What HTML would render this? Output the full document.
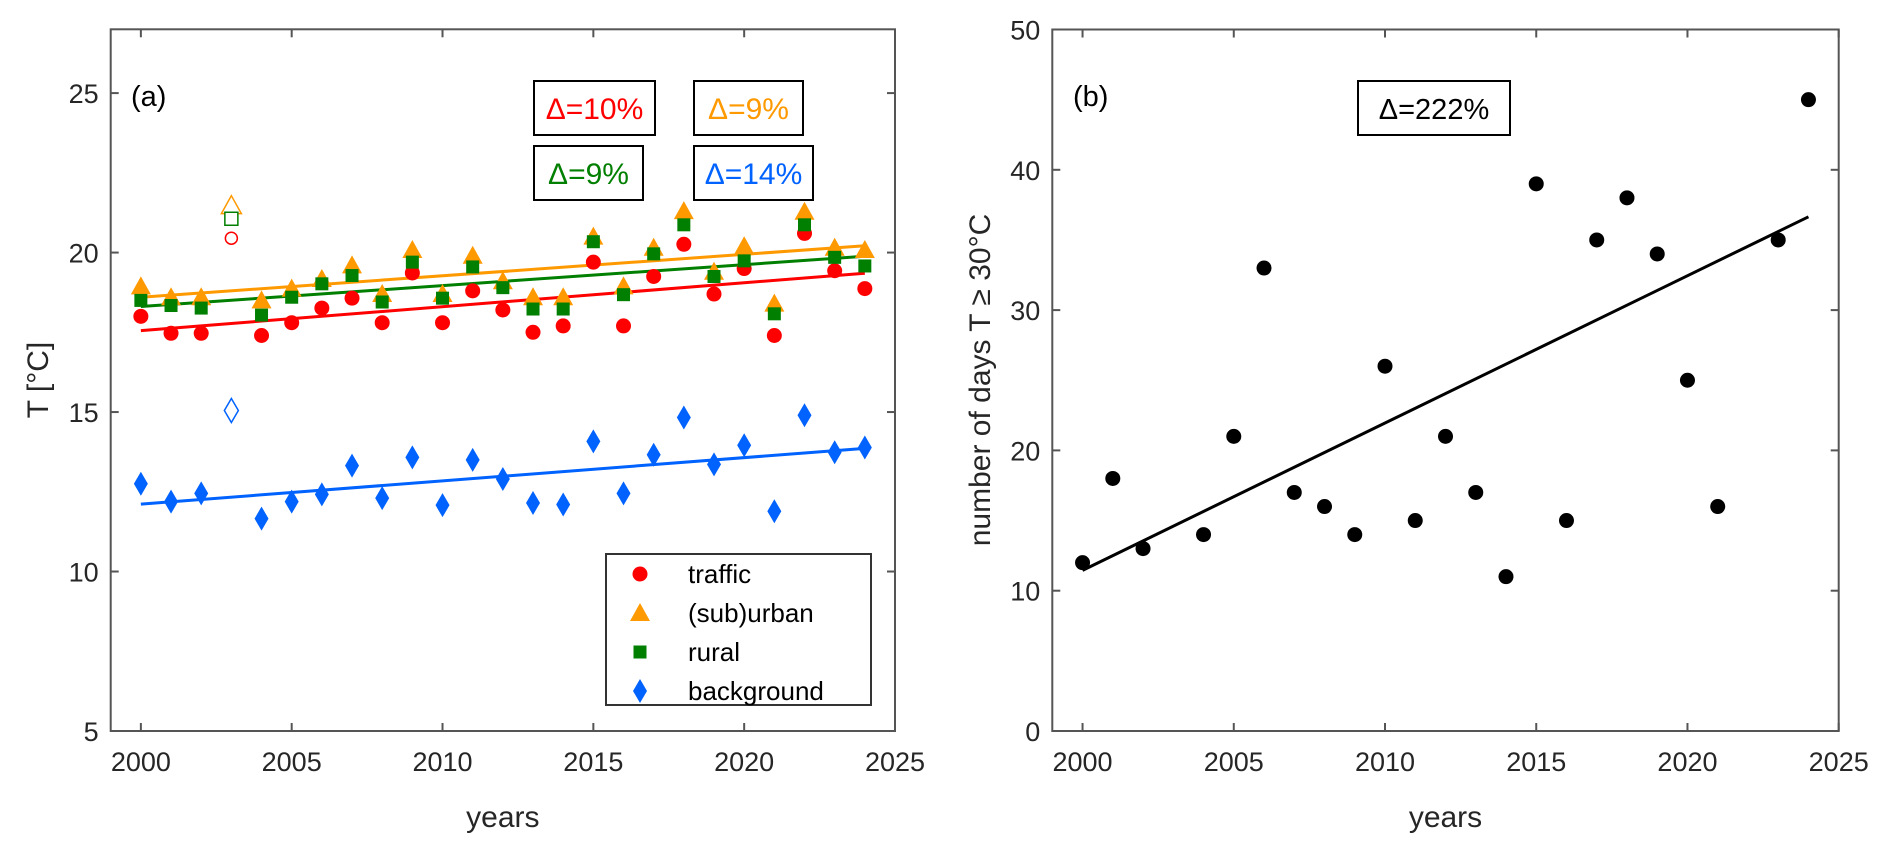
<!DOCTYPE html>
<html><head><meta charset="utf-8">
<style>
html,body{margin:0;padding:0;background:#fff;}
svg{display:block;font-family:"Liberation Sans",Arial,sans-serif;}
</style></head>
<body>
<svg id="chart" width="1892" height="849" viewBox="0 0 1892 849" xmlns="http://www.w3.org/2000/svg">
<g id="pa"></g>
<g id="pb"></g>
</svg>
<script>
const years = [2000,2001,2002,2003,2004,2005,2006,2007,2008,2009,2010,2011,2012,2013,2014,2015,2016,2017,2018,2019,2020,2021,2022,2023,2024];
const outlierYear = 2003;
const traffic = [18.0,17.47,17.47,20.45,17.4,17.8,18.26,18.57,17.8,19.36,17.8,18.8,18.2,17.5,17.7,19.7,17.7,19.25,20.26,18.7,19.5,17.4,20.6,19.43,18.87];
const suburban = [18.94,18.6,18.6,21.47,18.5,18.87,19.17,19.6,18.7,20.08,18.7,19.9,19.1,18.6,18.6,20.5,18.94,20.15,21.3,19.4,20.2,18.4,21.28,20.15,20.08];
const rural = [18.5,18.34,18.26,21.06,18.04,18.6,19.02,19.28,18.45,19.7,18.57,19.55,18.9,18.23,18.23,20.34,18.68,19.96,20.87,19.25,19.74,18.08,20.87,19.85,19.58];
const background = [12.75,12.19,12.45,15.05,11.66,12.19,12.42,13.32,12.3,13.58,12.08,13.5,12.9,12.15,12.1,14.08,12.45,13.66,14.83,13.36,13.96,11.89,14.9,13.74,13.89];
const daysYears = [2000,2001,2002,2004,2005,2006,2007,2008,2009,2010,2011,2012,2013,2014,2015,2016,2017,2018,2019,2020,2021,2023,2024];
const daysHot = [12,18,13,14,21,33,17,16,14,26,15,21,17,11,39,15,35,38,34,25,16,35,45];
const daysTrendYears = [2000,2024];
const daysTrend = [11.45,36.65];
const xTicks = [2000,2005,2010,2015,2020,2025];
const yTicksA = [5,10,15,20,25];
const yTicksB = [0,10,20,30,40,50];
const deltaLabels = ["Δ=10%","Δ=9%","Δ=9%","Δ=14%"];
const deltaDays = "Δ=222%";

const NS="http://www.w3.org/2000/svg";
function mk(parent,tag,attrs,text){const e=document.createElementNS(NS,tag);for(const k in attrs)e.setAttribute(k,attrs[k]);if(text!==undefined)e.textContent=text;parent.appendChild(e);return e;}
function fit(xs,ys){const n=xs.length;let sx=0,sy=0,sxx=0,sxy=0;for(let i=0;i<n;i++){sx+=xs[i];sy+=ys[i];sxx+=xs[i]*xs[i];sxy+=xs[i]*ys[i];}const b=(n*sxy-sx*sy)/(n*sxx-sx*sx);return {b:b,a:(sy-b*sx)/n};}

function axes(g,L,R,T,B,xmin,xmax,ymin,ymax,yt,name){
  const X=v=>L+(v-xmin)/(xmax-xmin)*(R-L);
  const Y=v=>B-(v-ymin)/(ymax-ymin)*(B-T);
  const box=mk(g,'rect',{x:L,y:T,width:R-L,height:B-T,fill:'none',stroke:'#555',"stroke-width":2});
  
  
  xTicks.forEach(t=>{
    const x=X(t);
    const l1=mk(g,'line',{x1:x,y1:B,x2:x,y2:B-8,stroke:'#555',"stroke-width":2});
    
    
    mk(g,'line',{x1:x,y1:T,x2:x,y2:T+8,stroke:'#555',"stroke-width":2});
    const tx=mk(g,'text',{x:x,y:B+40,"text-anchor":"middle","font-size":27,fill:'#262626'},String(t));
    
    
  });
  yt.forEach(t=>{
    const y=Y(t);
    const l1=mk(g,'line',{x1:L,y1:y,x2:L+8,y2:y,stroke:'#555',"stroke-width":2});
    
    
    mk(g,'line',{x1:R,y1:y,x2:R-8,y2:y,stroke:'#555',"stroke-width":2});
    const tx=mk(g,'text',{x:L-12,y:y+10,"text-anchor":"end","font-size":27,fill:'#262626'},String(t));
    
    
  });
  const xl=mk(g,'text',{x:(L+R)/2,y:B+96,"text-anchor":"middle","font-size":30,fill:'#262626'},'years');
  
  
  return {X,Y};
}

function marker(g,shape,cx,cy,color,open){
  const f=open?'#fff':color, sw=open?1.5:0;
  let e;
  if(shape==='circle'){e=mk(g,'circle',{cx:cx,cy:cy,r:open?6:7.5,fill:f,stroke:color,"stroke-width":sw});}
  else if(shape==='tri'){e=mk(g,'polygon',{points:`${cx},${cy-10} ${cx+10},${cy+8} ${cx-10},${cy+8}`,fill:f,stroke:color,"stroke-width":sw});}
  else if(shape==='sq'){e=mk(g,'rect',{x:cx-6.5,y:cy-6.5,width:13,height:13,fill:f,stroke:color,"stroke-width":sw});}
  else {e=mk(g,'polygon',{points:`${cx},${cy-12} ${cx+7},${cy} ${cx},${cy+12} ${cx-7},${cy}`,fill:f,stroke:color,"stroke-width":sw});}
  return e;
}

// Panel A
const ga=document.getElementById('pa');
const A=axes(ga,110.7,895,29.3,731,1999,2025,5,27,yTicksA,'panel-a');
const series=[
  {name:'traffic',vals:traffic,color:'#ff0000',shape:'circle'},
  {name:'suburban',vals:suburban,color:'#ff9900',shape:'tri'},
  {name:'rural',vals:rural,color:'#007f00',shape:'sq'},
  {name:'background',vals:background,color:'#0062ff',shape:'dia'}
];
series.forEach(s=>{
  const xs=[],ys=[];
  years.forEach((y,i)=>{if(y!==outlierYear){xs.push(y);ys.push(s.vals[i]);}});
  const f=fit(xs,ys);
  const x0=years[0],x1=years[years.length-1];
  const ln=mk(ga,'line',{x1:A.X(x0),y1:A.Y(f.a+f.b*x0),x2:A.X(x1),y2:A.Y(f.a+f.b*x1),stroke:s.color,"stroke-width":3});
  
  
});
series.forEach(s=>{
  years.forEach((y,i)=>{
    const m=marker(ga,s.shape,A.X(y),A.Y(s.vals[i]),s.color,y===outlierYear);
    
    
  });
});
const yla=mk(ga,'text',{x:48,y:380,"text-anchor":"middle","font-size":30,fill:'#262626',transform:'rotate(-90 48 380)'},'T [°C]');


const pla=mk(ga,'text',{x:131,y:106,"font-size":29,fill:'#000'},'(a)');


const dBoxes=[[534,81,121,'#ff0000'],[694,81,109,'#ff9900'],[534,146,109,'#007f00'],[694,146,119,'#0062ff']];
dBoxes.forEach((b,i)=>{
  const r=mk(ga,'rect',{x:b[0],y:b[1],width:b[2],height:54,fill:'#fff',stroke:'#000',"stroke-width":2});
  
  
  const t=mk(ga,'text',{x:b[0]+b[2]/2,y:b[1]+38,"text-anchor":"middle","font-size":30,fill:b[3]},deltaLabels[i]);
  
  
});
// legend
const lg=mk(ga,'g',{});


mk(lg,'rect',{x:606,y:554,width:265,height:151,fill:'#fff',stroke:'#333',"stroke-width":2});
const legNames=['traffic','(sub)urban','rural','background'];
series.forEach((s,i)=>{
  const y=574+i*39;
  const e=mk(lg,'g',{});
  
  
  marker(e,s.shape,640,y,s.color,false);
  mk(e,'text',{x:688,y:y+9,"font-size":26,fill:'#000'},legNames[i]);
});

// Panel B
const gb=document.getElementById('pb');
const Bx=axes(gb,1052.3,1838.7,29.5,731,1999,2025,0,50,yTicksB,'panel-b');
const tln=mk(gb,'line',{x1:Bx.X(daysTrendYears[0]),y1:Bx.Y(daysTrend[0]),x2:Bx.X(daysTrendYears[1]),y2:Bx.Y(daysTrend[1]),stroke:'#000',"stroke-width":3});


daysYears.forEach((y,i)=>{
  const c=mk(gb,'circle',{cx:Bx.X(y),cy:Bx.Y(daysHot[i]),r:7.5,fill:'#000'});
  
  
});
const ylb=mk(gb,'text',{x:990,y:380,"text-anchor":"middle","font-size":30,fill:'#262626',transform:'rotate(-90 990 380)'},'number of days T ≥ 30°C');


const plb=mk(gb,'text',{x:1073,y:106,"font-size":29,fill:'#000'},'(b)');


const rb=mk(gb,'rect',{x:1358,y:81,width:152,height:54,fill:'#fff',stroke:'#000',"stroke-width":2});


const tb=mk(gb,'text',{x:1434,y:119,"text-anchor":"middle","font-size":29,fill:'#000'},deltaDays);


</script>
</body></html>
